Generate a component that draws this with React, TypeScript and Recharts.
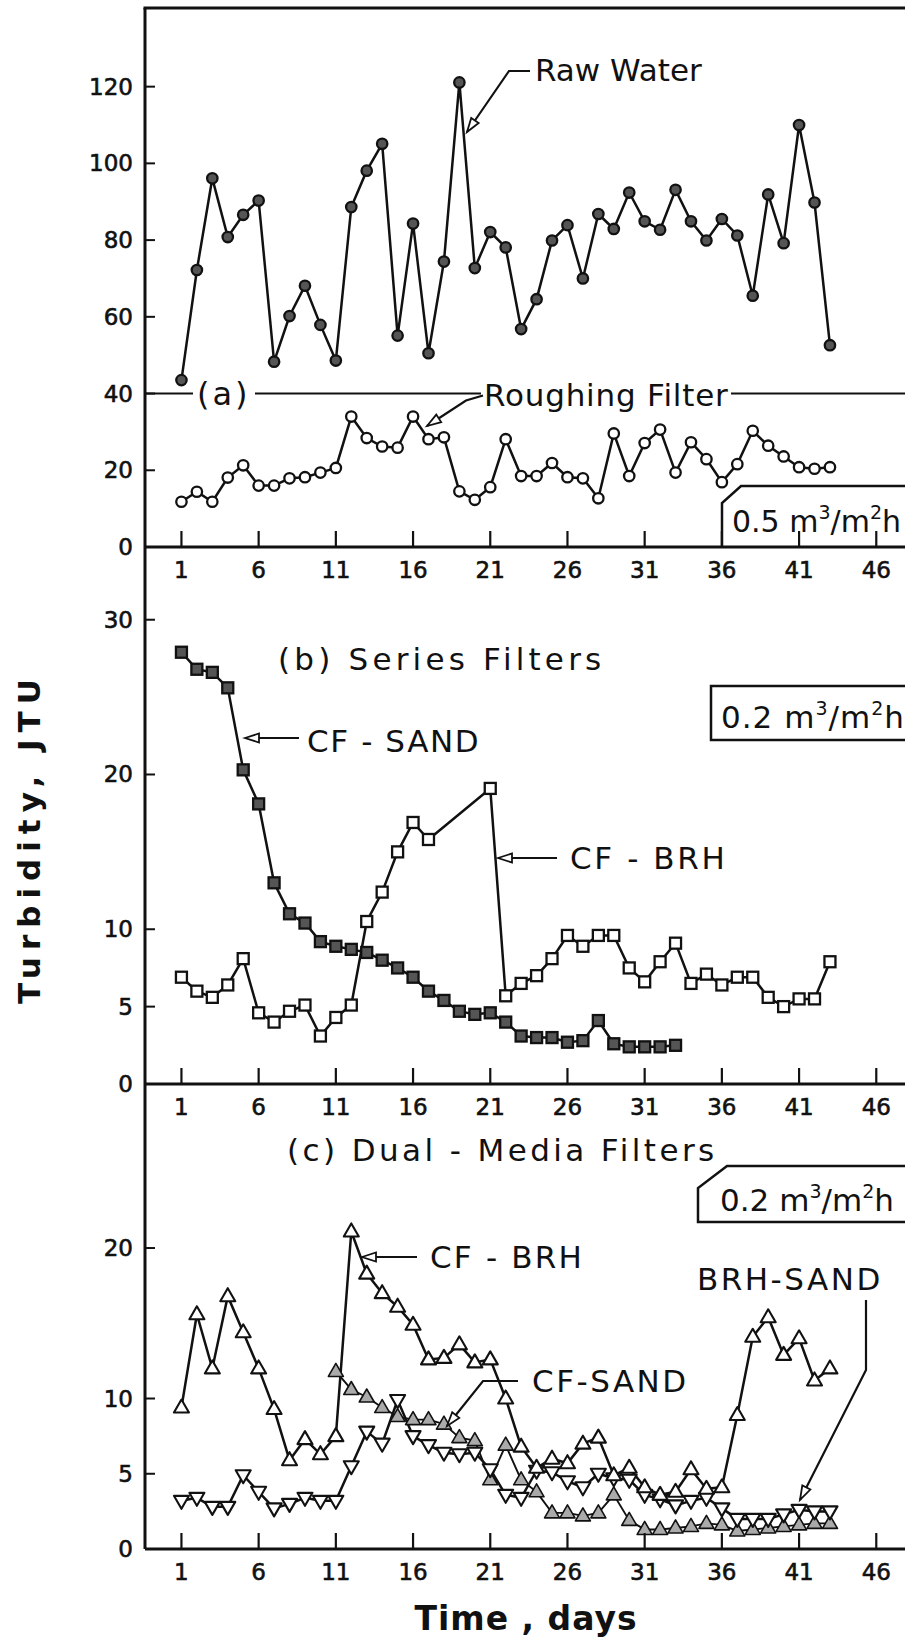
import React from 'react';
import { LineChart, Line, XAxis, YAxis } from 'recharts';

const FONT = '"DejaVu Sans", Verdana, sans-serif';
const INK = '#111';

// day numbers (1..43)
const days = [
  1, 2, 3, 4, 5, 6, 7, 8, 9, 10, 11, 12, 13, 14, 15, 16, 17, 18, 19, 20, 21, 22,
  23, 24, 25, 26, 27, 28, 29, 30, 31, 32, 33, 34, 35, 36, 37, 38, 39, 40, 41, 42, 43,
];
const dayTicks = [1, 6, 11, 16, 21, 26, 31, 36, 41, 46];

// (a) 0.5 m3/m2h
const rawWater = [
  43.5, 72.2, 96.1, 80.8, 86.6, 90.3, 48.3, 60.2, 68.1, 57.9, 48.6, 88.6, 98.1, 105.1,
  55.1, 84.3, 50.5, 74.4, 121.1, 72.7, 82.1, 78.1, 56.8, 64.6, 79.9, 83.9, 70.0, 86.8,
  82.9, 92.4, 84.9, 82.7, 93.1, 84.9, 79.9, 85.5, 81.2, 65.5, 91.9, 79.2, 110.0, 89.8, 52.6,
];
const roughingFilter = [
  11.8, 14.4, 11.8, 18.1, 21.3, 16.0, 16.0, 17.9, 18.2, 19.4, 20.6, 34.0, 28.4, 26.2,
  25.9, 34.0, 28.1, 28.6, 14.5, 12.3, 15.6, 28.1, 18.5, 18.5, 21.9, 18.2, 17.9, 12.7,
  29.6, 18.5, 27.1, 30.6, 19.4, 27.3, 22.9, 16.9, 21.6, 30.3, 26.4, 23.6, 20.8, 20.4, 20.8,
];

// (b) series filters, 0.2 m3/m2h  (CF-SAND runs days 1..33, CF-BRH has no days 18-20)
const seriesCfSand = [
  27.9, 26.8, 26.6, 25.6, 20.3, 18.1, 13.0, 11.0, 10.4, 9.2, 8.9, 8.7, 8.5, 8.0, 7.5,
  6.9, 6.0, 5.4, 4.7, 4.5, 4.6, 4.0, 3.1, 3.0, 3.0, 2.7, 2.8, 4.1, 2.6, 2.4, 2.4, 2.4, 2.5,
];
const seriesCfBrh = [
  6.9, 6.0, 5.6, 6.4, 8.1, 4.6, 4.0, 4.7, 5.1, 3.1, 4.3, 5.1, 10.5, 12.4, 15.0, 16.9,
  15.8, null, null, null, 19.1, 5.7, 6.5, 7.0, 8.1, 9.6, 8.9, 9.6, 9.6, 7.5, 6.6, 7.9,
  9.1, 6.5, 7.1, 6.4, 6.9, 6.9, 5.6, 5.0, 5.5, 5.5, 7.9,
];

// (c) dual-media filters, 0.2 m3/m2h  (CF-SAND starts on day 11)
const dualCfBrh = [
  9.4, 15.6, 12.0, 16.8, 14.4, 12.0, 9.3, 5.9, 7.3, 6.3, 7.5, 21.1, 18.3, 17.0, 16.1,
  14.9, 12.6, 12.7, 13.6, 12.4, 12.6, 10.0, 6.8, 5.4, 6.0, 5.7, 7.0, 7.4, 4.9, 5.4,
  4.1, 3.6, 3.8, 5.3, 4.0, 4.1, 8.9, 14.1, 15.4, 12.9, 14.0, 11.2, 12.0,
];
const dualCfSandStart = 11;
const dualCfSand = [
  11.8, 10.6, 10.1, 9.4, 8.8, 8.6, 8.6, 8.3, 7.4, 7.2, 4.6, 6.9, 4.6, 3.8, 2.4, 2.4,
  2.2, 2.4, 3.6, 1.9, 1.3, 1.3, 1.4, 1.5, 1.7, 1.6, 1.2, 1.3, 1.4, 1.5, 1.6, 1.7, 1.7,
];
const dualBrhSand = [
  3.2, 3.4, 2.8, 2.8, 4.9, 3.8, 2.7, 3.0, 3.4, 3.2, 3.2, 5.5, 7.8, 7.0, 9.9, 7.5, 6.9,
  6.4, 6.3, 6.4, 5.3, 3.6, 3.4, 5.2, 5.1, 4.5, 4.1, 5.0, 4.7, 4.6, 3.6, 3.3, 2.9, 3.2,
  3.4, 2.7, 2.0, 2.0, 2.0, 2.3, 2.6, 2.5, 2.5,
];

const yTicksA = [0, 20, 40, 60, 80, 100, 120];
const yTicksB = [0, 5, 10, 20, 30];
const yTicksC = [0, 5, 10, 20];

// build {day, v} rows, dropping missing days
const toRows = (vals: (number | null)[], start = 1) =>
  vals
    .map((v, i) => ({ day: days[start - 1 + i], v }))
    .filter((r) => r.v !== null);

// layout (page pixels)
const W = 905;
const AXIS_X = 145;
const X_DOMAIN = [-1.36, 47.86];
const A_TOP = 8, A_BOT = 547, A_MAX = 140.5;
const B_BOT = 1084, B_MAX = 34.7;
const C_BOT = 1549, C_MAX = 30.9;
const XAXIS_H = 44;

const yA = (v: number) => A_BOT - (v / A_MAX) * (A_BOT - A_TOP);

const YTick = (props: any) => {
  const { x, y, payload } = props;
  return (
    <g>
      <line x1={x} y1={y} x2={x + 10} y2={y} stroke={INK} strokeWidth={2} />
      <text x={x - 12} y={y + 8} textAnchor="end" fontFamily={FONT} fontSize={23} fill={INK} stroke={INK} strokeWidth={0.6}>
        {payload.value}
      </text>
    </g>
  );
};

const XTick = (props: any) => {
  const { x, y, payload } = props;
  return (
    <g>
      <line x1={x} y1={y} x2={x} y2={y - 16} stroke={INK} strokeWidth={2.2} />
      <text x={x} y={y + 31} textAnchor="middle" fontFamily={FONT} fontSize={23} fill={INK} stroke={INK} strokeWidth={0.6}>
        {payload.value}
      </text>
    </g>
  );
};

const circleDot = (fill: string) => (p: any) => (
  <circle key={p.index} cx={p.cx} cy={p.cy} r={5.2} fill={fill} stroke={INK} strokeWidth={2.3} />
);
const squareDot = (fill: string) => (p: any) => (
  <rect key={p.index} x={p.cx - 5.5} y={p.cy - 5.5} width={11} height={11} fill={fill} stroke={INK} strokeWidth={2.3} />
);
const triDot = (fill: string, down: boolean, sw = 2.1) => (p: any) => {
  const { cx, cy } = p;
  const s = down ? -1 : 1;
  const pts = `${cx},${cy - 8 * s} ${cx - 7.5},${cy + 5 * s} ${cx + 7.5},${cy + 5 * s}`;
  return <polygon key={p.index} points={pts} fill={fill} stroke={INK} strokeWidth={sw} strokeLinejoin="round" />;
};

function Panel(props: {
  top: number; bottom: number; marginTop: number; max: number; yTicks: number[]; children: React.ReactNode;
}) {
  const { top, bottom, marginTop, max, yTicks, children } = props;
  const height = bottom - top + XAXIS_H;
  return (
    <div style={{ position: 'absolute', left: 0, top: top - marginTop }}>
      <LineChart width={W} height={height + marginTop} margin={{ top: marginTop, right: 0, bottom: 0, left: 0 }}>
        <XAxis
          dataKey="day"
          type="number"
          domain={X_DOMAIN}
          ticks={dayTicks}
          interval={0}
          allowDataOverflow
          height={XAXIS_H}
          tickSize={0}
          tickMargin={0}
          tickLine={false}
          axisLine={{ stroke: INK, strokeWidth: 3 }}
          tick={XTick}
        />
        <YAxis
          type="number"
          domain={[0, max]}
          ticks={yTicks}
          interval={0}
          allowDataOverflow
          width={AXIS_X}
          tickSize={0}
          tickMargin={0}
          tickLine={false}
          axisLine={{ stroke: INK, strokeWidth: 3 }}
          tick={YTick}
        />
        {children}
      </LineChart>
    </div>
  );
}

function Arrow({ pts }: { pts: [number, number][] }) {
  const [x2, y2] = pts[pts.length - 1];
  const [x1, y1] = pts[pts.length - 2];
  const a = Math.atan2(y2 - y1, x2 - x1);
  const L = 14, hw = 4.5;
  const bx = x2 - L * Math.cos(a), by = y2 - L * Math.sin(a);
  const px = -Math.sin(a) * hw, py = Math.cos(a) * hw;
  return (
    <g>
      <polyline points={pts.map((p) => p.join(',')).join(' ')} fill="none" stroke={INK} strokeWidth={2.2} />
      <polygon
        points={`${x2},${y2} ${bx + px},${by + py} ${bx - px},${by - py}`}
        fill="#fff"
        stroke={INK}
        strokeWidth={1.8}
      />
    </g>
  );
}

function Rate({ x, y, size, lead, ls = 0 }: { x: number; y: number; size: number; lead: string; ls?: number }) {
  const sup = Math.round(size * 0.62);
  const d = Math.round(size * 0.42);
  return (
    <text x={x} y={y} fontFamily={FONT} fontSize={size} fill={INK} letterSpacing={ls} style={{ whiteSpace: 'pre' }}>
      {lead} m
      <tspan dy={-d} fontSize={sup}>3</tspan>
      <tspan dy={d} fontSize={size}>/m</tspan>
      <tspan dy={-d} fontSize={sup}>2</tspan>
      <tspan dy={d} fontSize={size}>h</tspan>
    </text>
  );
}

const lbl = { fontFamily: FONT, fill: INK } as const;

export default function App() {
  const lineProps = {
    type: 'linear' as const,
    dataKey: 'v',
    stroke: INK,
    strokeWidth: 2.5,
    isAnimationActive: false,
    activeDot: false,
  };
  const y40 = yA(40);

  return (
    <div style={{ position: 'absolute', left: 0, top: 0, width: W, height: 1647, background: '#fff', overflow: 'hidden' }}>
      <Panel top={A_TOP} bottom={A_BOT} marginTop={A_TOP} max={A_MAX} yTicks={yTicksA}>
        <Line {...lineProps} data={toRows(rawWater)} dot={circleDot('#555')} />
        <Line {...lineProps} data={toRows(roughingFilter)} dot={circleDot('#fff')} />
      </Panel>
      <Panel top={A_BOT} bottom={B_BOT} marginTop={0} max={B_MAX} yTicks={yTicksB}>
        <Line {...lineProps} data={toRows(seriesCfSand)} dot={squareDot('#555')} />
        <Line {...lineProps} data={toRows(seriesCfBrh)} dot={squareDot('#fff')} />
      </Panel>
      <Panel top={B_BOT} bottom={C_BOT} marginTop={0} max={C_MAX} yTicks={yTicksC}>
        <Line {...lineProps} data={toRows(dualCfSand, dualCfSandStart)} strokeWidth={1.9} dot={triDot('#aaa', false, 1.6)} />
        <Line {...lineProps} data={toRows(dualBrhSand)} dot={triDot('#fff', true)} />
        <Line {...lineProps} data={toRows(dualCfBrh)} dot={triDot('#fff', false)} />
      </Panel>

      <svg width={W} height={1647} style={{ position: 'absolute', left: 0, top: 0, pointerEvents: 'none' }}>
        {/* frame top */}
        <line x1={AXIS_X - 1.5} y1={A_TOP} x2={W} y2={A_TOP} stroke={INK} strokeWidth={3} />

        {/* (a) */}
        <line x1={AXIS_X} y1={y40} x2={193} y2={y40} stroke={INK} strokeWidth={2} />
        <line x1={255} y1={y40} x2={481} y2={y40} stroke={INK} strokeWidth={2} />
        <line x1={731} y1={y40} x2={W} y2={y40} stroke={INK} strokeWidth={2} />
        <text x={197} y={y40 + 11} fontSize={32} letterSpacing={3} {...lbl}>(a)</text>
        <text x={484} y={y40 + 12} fontSize={31} letterSpacing={0.8} {...lbl}>Roughing Filter</text>
        <Arrow pts={[[483, y40 + 2], [466, y40 + 7], [427, 426]]} />
        <text x={535} y={81} fontSize={31} {...lbl}>Raw Water</text>
        <Arrow pts={[[530, 71], [509, 71], [467, 132]]} />
        <path d={`M722,${A_BOT} L722,503 L741,486 L${W},486`} fill="none" stroke={INK} strokeWidth={2.5} />
        <Rate x={732} y={532} size={30} lead="0.5" />

        {/* (b) */}
        <text x={278} y={670} fontSize={31} letterSpacing={4.2} {...lbl}>(b) Series Filters</text>
        <text x={307} y={752} fontSize={31} letterSpacing={1.6} {...lbl}>CF - SAND</text>
        <Arrow pts={[[299, 738], [245, 738]]} />
        <text x={570} y={869} fontSize={31} letterSpacing={2.6} {...lbl}>CF - BRH</text>
        <Arrow pts={[[557, 858], [498, 858]]} />
        <path d={`M${W},686 L711,686 L711,740 L${W},740`} fill="none" stroke={INK} strokeWidth={2.5} />
        <Rate x={721} y={728} size={31} lead="0.2" ls={1} />

        {/* (c) */}
        <text x={287} y={1161} fontSize={31} letterSpacing={3.4} {...lbl}>(c) Dual - Media Filters</text>
        <path d={`M${W},1166 L727,1166 L698,1188 L698,1222 L${W},1222`} fill="none" stroke={INK} strokeWidth={2.5} />
        <Rate x={720} y={1211} size={31} lead="0.2" />
        <text x={430} y={1268} fontSize={31} letterSpacing={2.2} {...lbl}>CF - BRH</text>
        <Arrow pts={[[417, 1257], [362, 1257]]} />
        <text x={532} y={1392} fontSize={31} letterSpacing={2.5} {...lbl}>CF-SAND</text>
        <Arrow pts={[[518, 1381], [483, 1381], [447, 1426]]} />
        <text x={697} y={1290} fontSize={31} letterSpacing={2.5} {...lbl}>BRH-SAND</text>
        <Arrow pts={[[866, 1300], [866, 1370], [800, 1500]]} />

        {/* axis titles */}
        <text x={526} y={1630} textAnchor="middle" fontSize={33} fontWeight="bold" letterSpacing={1} {...lbl}>
          Time , days
        </text>
        <text
          x={0}
          y={0}
          transform="translate(40,838) rotate(-90)"
          textAnchor="middle"
          fontSize={31}
          fontWeight="bold"
          letterSpacing={7}
          {...lbl}
        >
          Turbidity, JTU
        </text>
      </svg>
    </div>
  );
}
